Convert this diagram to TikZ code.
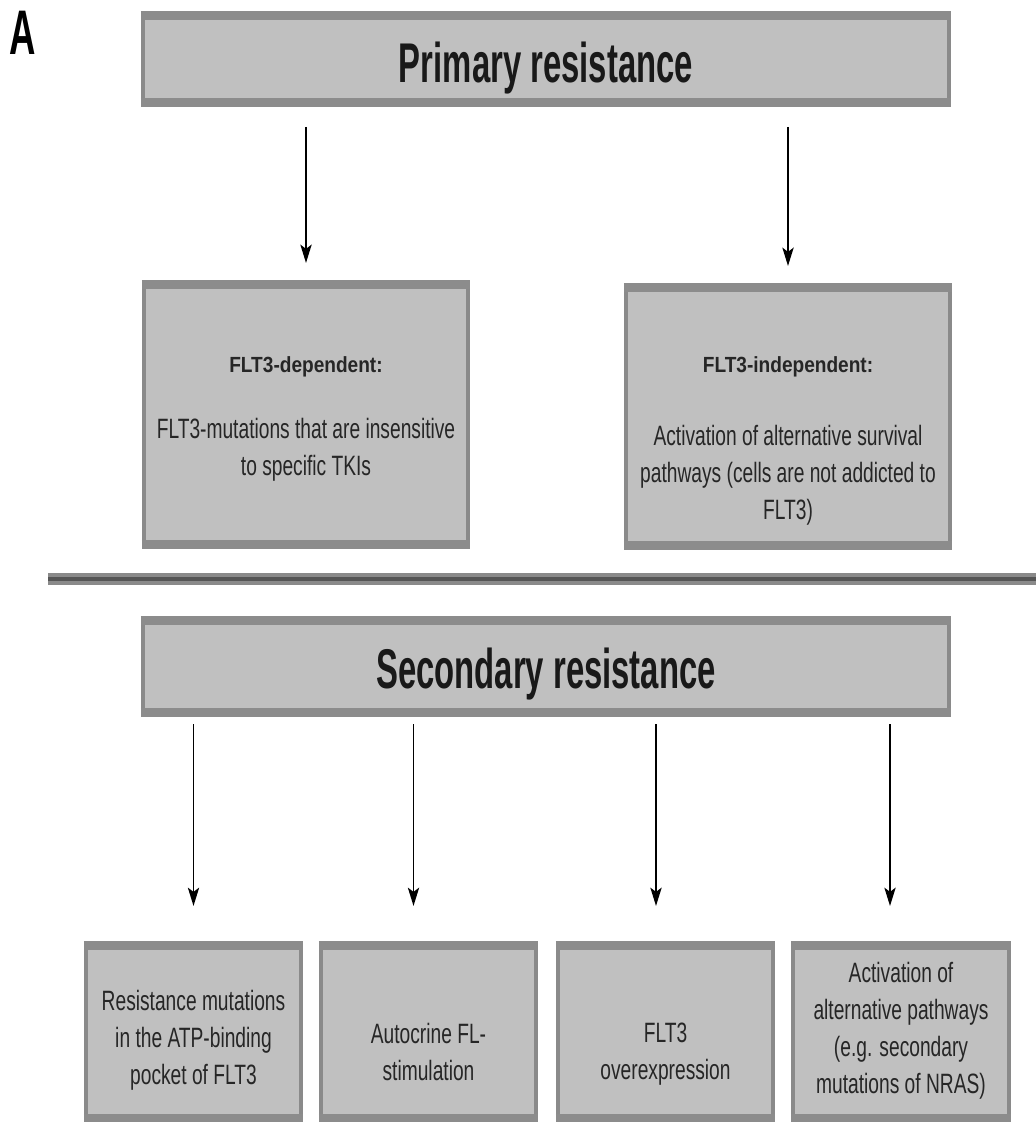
\documentclass[tikz,border=0pt]{standalone}
\usepackage{fontspec}
\usepackage{tikz}
\usetikzlibrary{arrows.meta,positioning,calc}
\newfontfamily\bodyfont{Liberation Sans}[FakeStretch=0.686]
\newfontfamily\headfont{Liberation Sans}[FakeStretch=0.87]
\newfontfamily\titlefont{Liberation Sans}[FakeStretch=0.587]
\newfontfamily\panelfont{Liberation Sans}[FakeStretch=0.58]
\definecolor{boxfill}{HTML}{C0C0C0}
\definecolor{boxedge}{HTML}{8A8A8A}
\definecolor{bandgray}{HTML}{8C8C8C}
\definecolor{barmid}{HTML}{555555}
\definecolor{txtgray}{HTML}{262626}

\begin{document}
\begin{tikzpicture}
[x=0.025cm,y=-0.025cm,
box/.style={draw=boxedge,fill=boxfill,line width=2.85pt,inner sep=0pt},
band/.style={draw=bandgray,line width=6.4pt},
title/.style={font=\titlefont\bfseries\fontsize{39.8}{40}\selectfont,text=black!90,inner sep=0pt,anchor=base},
head/.style={font=\headfont\bfseries\fontsize{15.6}{18}\selectfont,text=txtgray,inner sep=0pt,anchor=base},
txt/.style={font=\bodyfont\fontsize{19.9}{26.3}\selectfont,text=txtgray,align=center,inner sep=0pt,anchor=north},
arr/.style={line width=1.4pt,-{Stealth[length=13pt,width=8pt,inset=3pt]}}]
\useasboundingbox (0,0) rectangle (1036,1122);
\clip (0,0) rectangle (1036,1122);
\node[font=\panelfont\bfseries\fontsize{44.8}{46}\selectfont,inner sep=0pt,anchor=base] (lblA) at (23,55) {A};
\node[box,minimum width=20.15cm,minimum height=2.075cm] (prim) at (546,59) {};
\node[box,minimum width=8.1cm,minimum height=6.4cm] (dep) at (306,414.5) {};
\node[box,minimum width=8.1cm,minimum height=6.35cm] (indep) at (788,416.5) {};
\node[box,minimum width=20.15cm,minimum height=2.2cm] (sec) at (546,666.5) {};
\node[box,minimum width=5.375cm,minimum height=4.225cm] (r1) at (193.5,1032) {};
\node[box,minimum width=5.375cm,minimum height=4.225cm] (r2) at (428.5,1032) {};
\node[box,minimum width=5.375cm,minimum height=4.225cm] (r3) at (665.5,1032) {};
\node[box,minimum width=5.375cm,minimum height=4.225cm] (r4) at (901,1032) {};
\foreach \b in {prim,dep,indep,sec,r1,r2,r3,r4}{
\draw[band] (\b.north west) -- (\b.north east);
\draw[band] (\b.south west) -- (\b.south east);
}
\coordinate (sepL) at (48,579);
\coordinate (sepR) at (1036,579);
\draw[draw=boxedge,line width=8.5pt] (sepL) -- (sepR);
\draw[draw=barmid,line width=3.5pt] (sepL) -- (sepR);
\node[title] (primT) at (546,83) {Primary resistance};
\node[title] (secT) at (546,688) {Secondary resistance};
\node[head] (depH) at (306,372) {FLT3-dependent:};
\node[head] (indepH) at (788,372) {FLT3-independent:};
\node[txt] (depT) at (306,418) {FLT3-mutations that are insensitive\\to specific TKIs};
\node[txt] (indepT) at (788,425) {Activation of alternative survival\\pathways (cells are not addicted to\\FLT3)};
\node[txt] (r1T) at (193.5,990) {Resistance mutations\\in the ATP-binding\\pocket of FLT3};
\node[txt] (r2T) at (428.5,1023) {Autocrine FL-\\stimulation};
\node[txt] (r3T) at (665.5,1023) {FLT3\\overexpression};
\node[txt] (r4T) at (901,962) {Activation of\\alternative pathways\\(e.g. secondary\\mutations of NRAS)};
\draw[arr,shorten <=17.4pt,shorten >=15.3pt] (prim.south -| dep.north) -- (dep.north);
\draw[arr,shorten <=17.4pt,shorten >=15.3pt] (prim.south -| indep.north) -- (indep.north);
\foreach \n/\dx in {r1/0,r2/-15,r3/-9.5,r4/-11}
\draw[arr,shorten <=8.2pt,shorten >=28.1pt] ($(sec.south -| \n.north)+(\dx,0)$) -- ($(\n.north)+(\dx,0)$);
\end{tikzpicture}
\end{document}
